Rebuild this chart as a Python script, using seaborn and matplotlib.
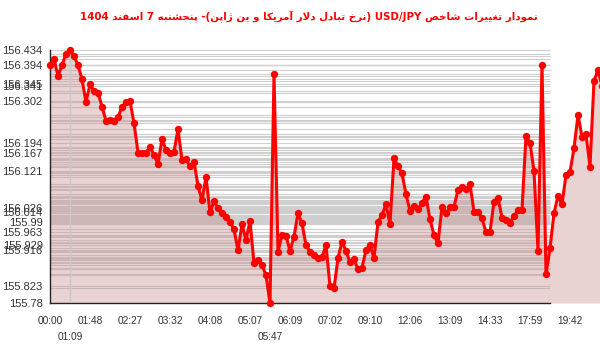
import numpy as np
import pandas as pd
import matplotlib
matplotlib.use("Agg")
import matplotlib.pyplot as plt
import seaborn as sns

# ---------------- data ----------------
title_text = "نمودار تغییرات شاخص USD/JPY (نرخ تبادل دلار آمریکا و ین ژاپن)- پنجشنبه 7 اسفند 1404"

values = [
    156.394, 156.411, 156.367, 156.395, 156.424, 156.434, 156.418, 156.395, 156.358, 156.300,
    156.345, 156.329, 156.324, 156.287, 156.251, 156.253, 156.250, 156.260, 156.287, 156.299,
    156.302, 156.245, 156.169, 156.167, 156.169, 156.183, 156.163, 156.139, 156.203, 156.176,
    156.167, 156.171, 156.229, 156.150, 156.152, 156.134, 156.145, 156.083, 156.045, 156.106,
    156.014, 156.043, 156.026, 156.012, 156.003, 155.990, 155.971, 155.916, 155.984, 155.943,
    155.992, 155.883, 155.891, 155.878, 155.852, 155.780, 156.371, 155.913, 155.956, 155.953,
    155.915, 155.951, 156.012, 155.986, 155.929, 155.913, 155.904, 155.896, 155.898, 155.930,
    155.823, 155.818, 155.896, 155.938, 155.915, 155.885, 155.893, 155.867, 155.871, 155.917,
    155.930, 155.896, 155.989, 156.008, 156.035, 155.984, 156.154, 156.134, 156.115, 156.061,
    156.018, 156.032, 156.022, 156.039, 156.055, 155.996, 155.956, 155.934, 156.029, 156.012,
    156.027, 156.029, 156.072, 156.081, 156.074, 156.087, 156.016, 156.016, 155.999, 155.963,
    155.964, 156.042, 156.052, 156.001, 155.995, 155.988, 156.005, 156.020, 156.020, 156.212,
    156.194, 156.121, 155.915, 156.395, 155.855, 155.921, 156.012, 156.057, 156.035, 156.111,
    156.119, 156.180, 156.266, 156.210, 156.216, 156.132, 156.355, 156.382, 156.341,
]

xtick_pos = [0, 10, 20, 30, 40, 50, 60, 70, 80, 90, 100, 110, 120, 130]
xtick_labels = ["00:00", "01:48", "02:27", "03:32", "04:08", "05:07", "06:09",
                "07:02", "09:10", "12:06", "13:09", "14:33", "17:59", "19:42"]
xminor_pos = [5, 55]
xminor_labels = ["01:09", "05:47"]

ytick_labels = ["156.434", "156.394", "156.345", "156.341", "156.302", "156.194",
                "156.167", "156.121", "156.026", "156.014", "155.99", "155.963",
                "155.929", "155.916", "155.823", "155.78"]

# ------------- minimal Persian shaping for display -------------
FORMS = {
    'ا': ('\uFE8D', '\uFE8E', None, None),
    'آ': ('\uFE81', '\uFE82', None, None),
    'ب': ('\uFE8F', '\uFE90', '\uFE91', '\uFE92'),
    'ت': ('\uFE95', '\uFE96', '\uFE97', '\uFE98'),
    'ج': ('\uFE9D', '\uFE9E', '\uFE9F', '\uFEA0'),
    'خ': ('\uFEA5', '\uFEA6', '\uFEA7', '\uFEA8'),
    'د': ('\uFEA9', '\uFEAA', None, None),
    'ر': ('\uFEAD', '\uFEAE', None, None),
    'س': ('\uFEB1', '\uFEB2', '\uFEB3', '\uFEB4'),
    'ش': ('\uFEB5', '\uFEB6', '\uFEB7', '\uFEB8'),
    'ص': ('\uFEB9', '\uFEBA', '\uFEBB', '\uFEBC'),
    'غ': ('\uFECD', '\uFECE', '\uFECF', '\uFED0'),
    'ف': ('\uFED1', '\uFED2', '\uFED3', '\uFED4'),
    'ل': ('\uFEDD', '\uFEDE', '\uFEDF', '\uFEE0'),
    'م': ('\uFEE1', '\uFEE2', '\uFEE3', '\uFEE4'),
    'ن': ('\uFEE5', '\uFEE6', '\uFEE7', '\uFEE8'),
    'ه': ('\uFEE9', '\uFEEA', '\uFEEB', '\uFEEC'),
    'و': ('\uFEED', '\uFEEE', None, None),
    'پ': ('\uFB56', '\uFB57', '\uFB58', '\uFB59'),
    'ژ': ('\uFB8A', '\uFB8B', None, None),
    'ک': ('\uFB8E', '\uFB8F', '\uFB90', '\uFB91'),
    'ی': ('\uFBFC', '\uFBFD', '\uFBFE', '\uFBFF'),
}
LAMALEF = {'ا': ('\uFEFB', '\uFEFC'), 'آ': ('\uFEF5', '\uFEF6')}
MIRROR = {'(': ')', ')': '('}


def joins_left(c):
    return c in FORMS and FORMS[c][2] is not None


def shape(word):
    out = []
    chars = list(word)
    n = len(chars)
    k = 0
    while k < n:
        c = chars[k]
        if c not in FORMS:
            out.append(c)
            k += 1
            continue
        prev = chars[k - 1] if k > 0 else None
        conn_prev = prev is not None and joins_left(prev)
        if c == 'ل' and k + 1 < n and chars[k + 1] in LAMALEF:
            iso, fin = LAMALEF[chars[k + 1]]
            out.append(fin if conn_prev else iso)
            k += 2
            continue
        nxt = chars[k + 1] if k + 1 < n else None
        conn_next = nxt is not None and nxt in FORMS and joins_left(c)
        iso, fin, ini, med = FORMS[c]
        if conn_prev and conn_next:
            out.append(med)
        elif conn_prev:
            out.append(fin)
        elif conn_next:
            out.append(ini)
        else:
            out.append(iso)
        k += 1
    return ''.join(out)


def visual(text):
    toks = text.split(' ')
    res = []
    for t in reversed(toks):
        if any(ch in FORMS for ch in t):
            res.append(''.join(MIRROR.get(ch, ch) for ch in reversed(shape(t))))
        else:
            res.append(t)
    return ' '.join(res)


# ---------------- plot ----------------
sns.set_theme(style="white")
plt.rcParams['font.family'] = ['Liberation Sans', 'DejaVu Sans']

df = pd.DataFrame({"i": np.arange(len(values)), "v": values})
ymin_v = 155.78
ymax_v = 156.434

fig = plt.figure(figsize=(6.0, 3.52), dpi=100)
ax = fig.add_axes([50 / 600, 1 - 303 / 352, 550 / 600, 263 / 352])

ax.set_xlim(0, 137.5)
ax.set_ylim(ymin_v, ymax_v + 10 / 386.9)

# horizontal guide lines at each value
ax.hlines(df["v"], 0, 125, colors="#cfcfcf", lw=0.8, zorder=1)
ax.fill_between(df["i"], df["v"], ymin_v, color="#c99090", alpha=0.40, lw=0, zorder=2)
ax.axvline(5, ymin=0, ymax=(ymax_v - ymin_v) / (ymax_v + 10 / 386.9 - ymin_v),
           color="#c8c8c8", lw=1, zorder=3)

sns.lineplot(data=df, x="i", y="v", ax=ax, color="#ff0000", lw=2.2, marker="o",
             markersize=5.3, markeredgewidth=0, zorder=5, clip_on=False)

for s in ["top", "right"]:
    ax.spines[s].set_visible(False)
ax.spines["left"].set_bounds(ymin_v, ymax_v)
ax.spines["bottom"].set_bounds(0, 125)
for s in ["left", "bottom"]:
    ax.spines[s].set_color("#222222")
    ax.spines[s].set_linewidth(1)

ax.set_yticks([float(t) for t in ytick_labels])
ax.set_yticklabels(ytick_labels)
ax.set_xticks(xtick_pos)
ax.set_xticklabels(xtick_labels)
ax.set_xticks(xminor_pos, minor=True)
ax.set_xticklabels(xminor_labels, minor=True)

ax.tick_params(axis="y", direction="inout", length=8.5, width=1, color="#222222",
               pad=1, labelsize=8, labelcolor="#333333")
ax.tick_params(axis="x", which="major", direction="out", length=4.3, width=1,
               color="#222222", pad=5, labelsize=7.3, labelcolor="#333333")
ax.tick_params(axis="x", which="minor", direction="out", length=19, width=1,
               color="#222222", pad=2, labelsize=7.3, labelcolor="#333333")
ax.xaxis.get_minor_ticks()[0].tick1line.set_color("#c8c8c8")

ax.set_xlabel("")
ax.set_ylabel("")
if ax.get_legend():
    ax.get_legend().remove()

fig.text(309 / 600, 1 - 17 / 352, visual(title_text), ha="center", va="center",
         color="#ff0000", fontsize=7.4, fontweight="bold", family=["DejaVu Sans"])

fig.savefig("out.png", dpi=100)
